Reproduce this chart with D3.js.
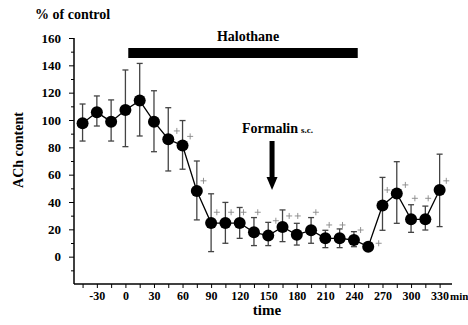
<!DOCTYPE html>
<html>
<head>
<meta charset="utf-8">
<script src="https://cdn.jsdelivr.net/npm/d3@7"></script>
<style>
  body { margin: 0; background: #fff; }
</style>
</head>
<body>
<div id="chart"></div>
<script>
// ACh content (% of control) every 15 min
var times = [-45, -30, -15, 0, 15, 30, 45, 60, 75, 90, 105, 120, 135, 150, 165, 180, 195, 210, 225, 240, 255, 270, 285, 300, 315, 330];
var means = [97.6, 105.6, 98.8, 107.3, 114.2, 98.8, 85.9, 81.3, 48, 24.6, 24.6, 24.6, 17.8, 15.4, 21.7, 16, 19.4, 13.4, 13.4, 12.2, 7.3, 37.5, 46.3, 27.3, 27.3, 48.8];
var upper = [111.7, 117.6, 114.7, 136.6, 141.4, 121.4, 109, 99.6, 70, 46, 39.7, 36, 28.6, 25.1, 34.2, 24.4, 28.6, 19.3, 20.3, 18.3, 9, 58, 69.5, 38, 37, 75];
var lower = [84.6, 95.6, 84.6, 80.5, 88.3, 76.8, 62.7, 64, 26.9, 3.7, 9.8, 13.4, 8.1, 8.1, 11, 8.5, 9.8, 6.6, 6.6, 7.3, 6, 19.3, 24.4, 17.8, 19.5, 22];

// "+" significance marks
var plusTimes = [54, 68, 82, 96, 111, 124, 139, 158, 172, 181, 200, 214, 228, 247, 266, 275, 294, 304, 318, 337];
var plusValues = [92, 88, 55.5, 32.5, 32.5, 32.5, 32.5, 26.3, 29.8, 29.8, 32.5, 23.2, 23.2, 19.5, 9.8, 48.8, 52.5, 42.7, 42.7, 55.5];

var xTicks = [-30, 0, 30, 60, 90, 120, 150, 180, 210, 240, 270, 300, 330];
var yTicks = [0, 20, 40, 60, 80, 100, 120, 140, 160];
var halothane = [3, 244];
var formalinTime = 154;

var width = 468, height = 325;
var serif = "'Liberation Serif', 'Times New Roman', Times, 'DejaVu Serif', serif";

var svg = d3.select("#chart").append("svg")
  .attr("width", width)
  .attr("height", height)
  .attr("font-family", serif)
  .attr("font-weight", "bold");

var x = d3.scaleLinear().domain([-54, 343]).range([74, 452]);
var y = d3.scaleLinear().domain([-20, 160]).range([284, 38]);

// y axis
var yAxis = d3.axisLeft(y)
  .tickValues(yTicks)
  .tickSize(5)
  .tickPadding(8)
  .tickFormat(function(d) { return String(d); });
var gy = svg.append("g")
  .attr("transform", "translate(" + x.range()[0] + ",0)")
  .call(yAxis)
  .attr("font-family", serif)
  .attr("font-size", 13);
gy.select(".domain").attr("stroke-width", 1.5).attr("d", "M0," + y(160) + "V" + y(-20));

svg.append("g")
  .attr("transform", "translate(" + x.range()[0] + ",0)")
  .call(d3.axisLeft(y).tickValues(d3.range(-10, 160, 20)).tickSize(3).tickFormat(""))
  .select(".domain").remove();

// x axis
var xAxis = d3.axisBottom(x)
  .tickValues(xTicks)
  .tickSize(4)
  .tickPadding(3)
  .tickFormat(function(d) { return String(d); });
var gx = svg.append("g")
  .attr("transform", "translate(0," + y.range()[0] + ")")
  .call(xAxis)
  .attr("font-family", serif)
  .attr("font-size", 12);
gx.select(".domain").attr("stroke-width", 1.5).attr("d", "M" + x.range()[0] + ",0H" + x.range()[1]);

svg.append("g")
  .attr("transform", "translate(0," + y.range()[0] + ")")
  .call(d3.axisBottom(x).tickValues(d3.range(-45, 331, 30)).tickSize(4).tickFormat(""))
  .select(".domain").remove();

// labels
svg.append("text")
  .attr("x", 35).attr("y", 19)
  .attr("font-size", 14)
  .text("% of control");

svg.append("text")
  .attr("transform", "translate(23,150) rotate(-90)")
  .attr("text-anchor", "middle")
  .attr("font-size", 14)
  .text("ACh content");

svg.append("text")
  .attr("x", 267).attr("y", 315)
  .attr("text-anchor", "middle")
  .attr("font-size", 15)
  .text("time");

svg.append("text")
  .attr("x", 450).attr("y", 300)
  .attr("font-size", 11)
  .text("min");

// halothane bar
svg.append("rect")
  .attr("x", x(halothane[0]))
  .attr("y", 48)
  .attr("width", x(halothane[1]) - x(halothane[0]))
  .attr("height", 10)
  .attr("fill", "#000");

svg.append("text")
  .attr("x", 248).attr("y", 41)
  .attr("text-anchor", "middle")
  .attr("font-size", 14)
  .text("Halothane");

// formalin arrow
var fx = x(formalinTime);
var fl = svg.append("text")
  .attr("x", 242).attr("y", 133)
  .attr("font-size", 14);
fl.append("tspan").text("Formalin");
fl.append("tspan").attr("dx", 3).attr("font-size", 9).text("s.c.");

svg.append("rect")
  .attr("x", fx - 2.5).attr("y", 141)
  .attr("width", 5).attr("height", 37)
  .attr("fill", "#000");
svg.append("path")
  .attr("d", "M" + (fx - 5.5) + ",177L" + (fx + 5.5) + ",177L" + fx + ",190Z")
  .attr("fill", "#000");

// error bars
var err = svg.append("g").attr("stroke", "#444").attr("stroke-width", 1.3);
times.forEach(function(t, i)
{
  var cx = x(t);
  err.append("line")
    .attr("x1", cx).attr("x2", cx)
    .attr("y1", y(upper[i])).attr("y2", y(lower[i]));
  err.append("line")
    .attr("x1", cx - 3).attr("x2", cx + 3)
    .attr("y1", y(upper[i])).attr("y2", y(upper[i]));
  err.append("line")
    .attr("x1", cx - 3).attr("x2", cx + 3)
    .attr("y1", y(lower[i])).attr("y2", y(lower[i]));
});

// plus marks
var plus = svg.append("g").attr("stroke", "#888").attr("stroke-width", 0.9);
plusTimes.forEach(function(t, i)
{
  var px = x(t), py = y(plusValues[i]);
  plus.append("path")
    .attr("d", "M" + (px - 3) + "," + py + "H" + (px + 3) + "M" + px + "," + (py - 3) + "V" + (py + 3));
});

// line and markers
var line = d3.line()
  .x(function(d, i) { return x(times[i]); })
  .y(function(d) { return y(d); });

svg.append("path")
  .datum(means)
  .attr("d", line)
  .attr("fill", "none")
  .attr("stroke", "#000")
  .attr("stroke-width", 1.3);

svg.selectAll(".dot")
  .data(means)
  .enter().append("circle")
  .attr("class", "dot")
  .attr("cx", function(d, i) { return x(times[i]); })
  .attr("cy", function(d) { return y(d); })
  .attr("r", 6)
  .attr("fill", "#000");
</script>
</body>
</html>
